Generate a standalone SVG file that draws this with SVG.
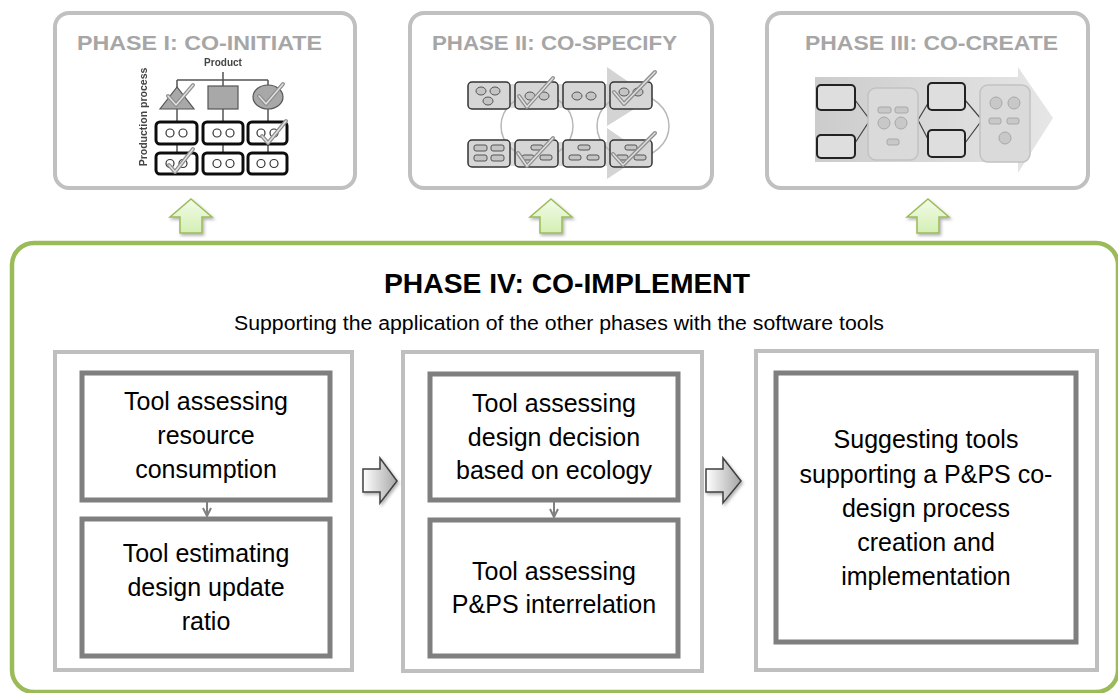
<svg xmlns="http://www.w3.org/2000/svg" width="1118" height="693" viewBox="0 0 1118 693">
  <defs>
    <style>
      .phase { fill: #ffffff; stroke: #c0c0c0; stroke-width: 4; }
      .ptitle { font-family: "Liberation Sans", Arial, sans-serif; font-weight: bold; font-size: 21px; fill: #a6a6a6; }
      .panel { fill: #ffffff; stroke: #bfbfbf; stroke-width: 4; }
      .tool { fill: #ffffff; stroke: #7f7f7f; stroke-width: 5; }
      .body { font-family: "Liberation Sans", Arial, sans-serif; font-size: 25px; fill: #000000; text-anchor: middle; }
      .head { font-family: "Liberation Sans", Arial, sans-serif; font-weight: bold; font-size: 28px; fill: #000000; text-anchor: middle; }
      .sub { font-family: "Liberation Sans", Arial, sans-serif; font-size: 20px; fill: #000000; text-anchor: middle; }
      .uparrow { fill: url(#greenFill); stroke: #9bbb59; stroke-width: 1.5; }
      .rarrow { fill: url(#grayFill); stroke: #404040; stroke-width: 1.5; }
      .link { stroke: #808080; stroke-width: 2; fill: none; }
      .ln { stroke: #555555; stroke-width: 1.5; fill: none; }
      .shape { fill: #a8a8a8; stroke: #555555; stroke-width: 1.2; }
      .proc { fill: #ffffff; stroke: #111111; stroke-width: 3; }
      .gear { fill: none; stroke: #333333; stroke-width: 1.2; }
      .chk { fill: none; stroke: #8f8f8f; stroke-width: 4; stroke-linecap: round; stroke-linejoin: round; }
      .chk2 { fill: none; stroke: #e2e2e2; stroke-width: 1.4; stroke-linecap: round; stroke-linejoin: round; }
      .sbox { fill: #d6d6d6; stroke: #333333; stroke-width: 1.5; }
      .item { fill: #c4c4c4; stroke: #555555; stroke-width: 1; }
      .loop { fill: none; stroke: #b8b8b8; stroke-width: 1.5; }
      .dbox { fill: #dedede; stroke: #222222; stroke-width: 2; }
      .lpanel { fill: #dadada; stroke: #c2c2c2; stroke-width: 1.5; }
      .litem { fill: #c8c8c8; stroke: #a8a8a8; stroke-width: 1; }
    </style>
    <linearGradient id="greenFill" x1="0" y1="0" x2="0" y2="1">
      <stop offset="0" stop-color="#f2fbe8"/>
      <stop offset="1" stop-color="#d4efb4"/>
    </linearGradient>
    <linearGradient id="grayFill" x1="0" y1="0" x2="1" y2="0">
      <stop offset="0" stop-color="#ffffff"/>
      <stop offset="1" stop-color="#a6a6a6"/>
    </linearGradient>
    <linearGradient id="bigArrow" x1="0" y1="0" x2="1" y2="0">
      <stop offset="0" stop-color="#cccccc"/>
      <stop offset="1" stop-color="#e6e6e6"/>
    </linearGradient>
    <filter id="soft" x="-5%" y="-5%" width="110%" height="110%">
      <feGaussianBlur stdDeviation="0.5"/>
    </filter>
    <filter id="shadow" x="-30%" y="-30%" width="160%" height="160%">
      <feDropShadow dx="1.5" dy="2" stdDeviation="1.5" flood-color="#000000" flood-opacity="0.3"/>
    </filter>
    <marker id="tip" viewBox="0 0 10 10" refX="9" refY="5" markerWidth="5" markerHeight="5" orient="auto">
      <path d="M1,1 L9,5 L1,9" fill="none" stroke="#808080" stroke-width="2"/>
    </marker>
  </defs>

  <!-- Phase I -->
  <g id="phase1">
    <rect class="phase" x="55" y="13" width="300" height="175" rx="14"/>
    <text class="ptitle" x="77" y="50" textLength="245" lengthAdjust="spacingAndGlyphs">PHASE I: CO-INITIATE</text>
    <g filter="url(#soft)">
      <text x="223" y="66" font-family="Liberation Sans, Arial, sans-serif" font-weight="bold" font-size="10" fill="#444" text-anchor="middle">Product</text>
      <text transform="translate(147,117) rotate(-90)" font-family="Liberation Sans, Arial, sans-serif" font-weight="bold" font-size="10.5" fill="#444" text-anchor="middle">Production process</text>
      <path class="ln" d="M223,72 V80 M177,80 H268 M177,80 V175 M223,80 V175 M268,80 V175"/>
      <polygon class="shape" points="177,87 160,109 194,109"/>
      <rect class="shape" x="208" y="86" width="30" height="23"/>
      <ellipse class="shape" cx="268" cy="97" rx="15" ry="12"/>
      <g>
        <rect class="proc" x="156" y="122" width="41" height="22" rx="4"/>
        <rect class="proc" x="203" y="122" width="40" height="22" rx="4"/>
        <rect class="proc" x="248" y="122" width="39" height="22" rx="4"/>
        <rect class="proc" x="156" y="153" width="41" height="21" rx="4"/>
        <rect class="proc" x="203" y="153" width="40" height="21" rx="4"/>
        <rect class="proc" x="248" y="153" width="39" height="21" rx="4"/>
      </g>
      <g>
        <circle class="gear" cx="170" cy="133" r="4"/><circle class="gear" cx="183" cy="133" r="4"/>
        <circle class="gear" cx="217" cy="133" r="4"/><circle class="gear" cx="230" cy="133" r="4"/>
        <circle class="gear" cx="261" cy="133" r="4"/><circle class="gear" cx="274" cy="133" r="4"/>
        <circle class="gear" cx="170" cy="163.5" r="4"/><circle class="gear" cx="183" cy="163.5" r="4"/>
        <circle class="gear" cx="217" cy="163.5" r="4"/><circle class="gear" cx="230" cy="163.5" r="4"/>
        <circle class="gear" cx="261" cy="163.5" r="4"/><circle class="gear" cx="274" cy="163.5" r="4"/>
      </g>
      <g>
        <path class="chk" d="M168,96 L176,105 L193,85"/><path class="chk2" d="M168,96 L176,105 L193,85"/>
        <path class="chk" d="M259,96 L266,104 L283,84"/><path class="chk2" d="M259,96 L266,104 L283,84"/>
        <path class="chk" d="M262,136 L268,143 L286,121"/><path class="chk2" d="M262,136 L268,143 L286,121"/>
        <path class="chk" d="M169,165 L175,172 L193,149"/><path class="chk2" d="M169,165 L175,172 L193,149"/>
      </g>
    </g>
  </g>

  <!-- Phase II -->
  <g id="phase2">
    <rect class="phase" x="410" y="13" width="302" height="175" rx="14"/>
    <text class="ptitle" x="432" y="50" textLength="245" lengthAdjust="spacingAndGlyphs">PHASE II: CO-SPECIFY</text>
    <g filter="url(#soft)">
      <rect x="470" y="84" width="140" height="24" fill="#dcdcdc"/>
      <rect x="470" y="142" width="140" height="24" fill="#dcdcdc"/>
      <polygon points="607,67 652,98 607,126" fill="#d4d4d4"/>
      <polygon points="607,128 645,154 607,179" fill="#d4d4d4"/>
      <ellipse class="loop" cx="537" cy="126" rx="36" ry="32"/>
      <ellipse class="loop" cx="633" cy="126" rx="36" ry="32"/>
      <g>
        <rect class="sbox" x="468" y="82" width="42" height="27" rx="4"/>
        <rect class="sbox" x="515" y="82" width="43" height="27" rx="4"/>
        <rect class="sbox" x="563" y="82" width="42" height="27" rx="4"/>
        <rect class="sbox" x="610" y="82" width="42" height="27" rx="4"/>
        <rect class="sbox" x="468" y="140" width="42" height="27" rx="4"/>
        <rect class="sbox" x="515" y="140" width="43" height="27" rx="4"/>
        <rect class="sbox" x="563" y="140" width="42" height="27" rx="4"/>
        <rect class="sbox" x="610" y="140" width="42" height="27" rx="4"/>
      </g>
      <g>
        <ellipse class="item" cx="481" cy="91" rx="5" ry="4"/><ellipse class="item" cx="495" cy="91" rx="5" ry="4"/><ellipse class="item" cx="488" cy="101" rx="5" ry="4"/>
        <ellipse class="item" cx="530" cy="96" rx="5" ry="4"/><ellipse class="item" cx="544" cy="96" rx="5" ry="4"/>
        <ellipse class="item" cx="577" cy="96" rx="5" ry="4"/><ellipse class="item" cx="591" cy="96" rx="5" ry="4"/>
        <ellipse class="item" cx="624" cy="92" rx="5" ry="4"/><ellipse class="item" cx="638" cy="92" rx="5" ry="4"/>
        <rect class="item" x="474" y="145" width="13" height="6" rx="2"/><rect class="item" x="491" y="145" width="13" height="6" rx="2"/>
        <rect class="item" x="474" y="155" width="13" height="6" rx="2"/><rect class="item" x="491" y="155" width="13" height="6" rx="2"/>
        <rect class="item" x="531" y="145" width="12" height="5" rx="2"/><rect class="item" x="522" y="155" width="12" height="5" rx="2"/><rect class="item" x="540" y="155" width="12" height="5" rx="2"/>
        <rect class="item" x="578" y="145" width="12" height="5" rx="2"/><rect class="item" x="569" y="155" width="12" height="5" rx="2"/><rect class="item" x="587" y="155" width="12" height="5" rx="2"/>
        <rect class="item" x="625" y="145" width="12" height="5" rx="2"/><rect class="item" x="616" y="155" width="12" height="5" rx="2"/><rect class="item" x="634" y="155" width="12" height="5" rx="2"/>
      </g>
      <g>
        <path class="chk" d="M519,96 L527,107 L553,78"/><path class="chk2" d="M519,96 L527,107 L553,78"/>
        <path class="chk" d="M614,92 L624,104 L655,72"/><path class="chk2" d="M614,92 L624,104 L655,72"/>
        <path class="chk" d="M518,153 L527,166 L553,138"/><path class="chk2" d="M518,153 L527,166 L553,138"/>
        <path class="chk" d="M613,154 L623,165 L655,133"/><path class="chk2" d="M613,154 L623,165 L655,133"/>
      </g>
    </g>
  </g>

  <!-- Phase III -->
  <g id="phase3">
    <rect class="phase" x="767" y="13" width="321" height="175" rx="14"/>
    <text class="ptitle" x="805" y="50" textLength="253" lengthAdjust="spacingAndGlyphs">PHASE III: CO-CREATE</text>
    <g filter="url(#soft)">
      <polygon points="815,77 1018,77 1018,67 1053,118 1018,173 1018,162 815,162" fill="url(#bigArrow)"/>
      <path d="M855,100 L870,120 L855,143 M930,100 L918,120 L930,143 M965,100 L982,120 L965,143" fill="none" stroke="#444444" stroke-width="1.2"/>
      <rect class="lpanel" x="868" y="88" width="50" height="72" rx="8"/>
      <rect class="lpanel" x="980" y="85" width="50" height="77" rx="8"/>
      <rect class="dbox" x="817" y="85" width="38" height="25" rx="4"/>
      <rect class="dbox" x="817" y="135" width="38" height="23" rx="4"/>
      <rect class="dbox" x="928" y="83" width="37" height="27" rx="4"/>
      <rect class="dbox" x="928" y="130" width="37" height="27" rx="4"/>
      <rect class="litem" x="878" y="107" width="13" height="6" rx="2"/><rect class="litem" x="895" y="107" width="13" height="6" rx="2"/>
      <circle class="litem" cx="884" cy="123" r="6"/><circle class="litem" cx="901" cy="123" r="6"/>
      <rect class="litem" x="887" y="139" width="12" height="6" rx="2"/>
      <circle class="litem" cx="996" cy="103" r="6"/><circle class="litem" cx="1014" cy="103" r="6"/>
      <rect class="litem" x="989" y="118" width="12" height="6" rx="2"/><rect class="litem" x="1007" y="118" width="12" height="6" rx="2"/>
      <circle class="litem" cx="1005" cy="138" r="6"/>
    </g>
  </g>

  <!-- Phase IV container -->
  <g id="phase4">
    <rect x="12" y="243" width="1106" height="449" rx="22" fill="#ffffff" stroke="#9bbb59" stroke-width="4.5"/>
    <text class="head" x="567" y="293" textLength="366" lengthAdjust="spacingAndGlyphs">PHASE IV: CO-IMPLEMENT</text>
    <text class="sub" x="559" y="330" textLength="650" lengthAdjust="spacingAndGlyphs">Supporting  the application of the other phases with the software tools</text>
  </g>

  <g id="panel1">
    <rect class="panel" x="55" y="352" width="297" height="318"/>
  </g>
  <g id="tool-resource">
    <rect class="tool" x="82" y="373" width="248" height="127"/>
    <text class="body" x="206" y="410">Tool assessing</text>
    <text class="body" x="206" y="444">resource</text>
    <text class="body" x="206" y="478">consumption</text>
  </g>
  <g id="tool-update">
    <rect class="tool" x="82" y="519" width="248" height="137"/>
    <text class="body" x="206" y="562">Tool estimating</text>
    <text class="body" x="206" y="596">design update</text>
    <text class="body" x="206" y="630">ratio</text>
  </g>

  <g id="panel2">
    <rect class="panel" x="403" y="352" width="299" height="319"/>
  </g>
  <g id="tool-ecology">
    <rect class="tool" x="430" y="374" width="248" height="126"/>
    <text class="body" x="554" y="412">Tool assessing</text>
    <text class="body" x="554" y="446">design decision</text>
    <text class="body" x="554" y="479">based on ecology</text>
  </g>
  <g id="tool-interrelation">
    <rect class="tool" x="430" y="520" width="248" height="136"/>
    <text class="body" x="554" y="580">Tool assessing</text>
    <text class="body" x="554" y="613">P&amp;PS interrelation</text>
  </g>

  <g id="panel3">
    <rect class="panel" x="756" y="351" width="341" height="319"/>
  </g>
  <g id="tool-suggest">
    <rect class="tool" x="776" y="373" width="300" height="269"/>
    <text class="body" x="926" y="448">Suggesting tools</text>
    <text class="body" x="926" y="483">supporting  a P&amp;PS co-</text>
    <text class="body" x="926" y="517">design process</text>
    <text class="body" x="926" y="551">creation and</text>
    <text class="body" x="926" y="585">implementation</text>
  </g>

  <!-- connectors -->
  <g id="connectors">
    <path class="uparrow" filter="url(#shadow)" d="M191,199 L212,217 L202,217 L202,233 L180,233 L180,217 L170,217 Z"/>
    <path class="uparrow" filter="url(#shadow)" d="M551,199 L572,217 L562,217 L562,233 L540,233 L540,217 L530,217 Z"/>
    <path class="uparrow" filter="url(#shadow)" d="M928,199 L949,217 L939,217 L939,233 L917,233 L917,217 L907,217 Z"/>
    <path class="rarrow" filter="url(#shadow)" d="M363,469 L380,469 L380,458 L397,481 L380,503 L380,492 L363,492 Z"/>
    <path class="rarrow" filter="url(#shadow)" d="M706,469 L723,469 L723,458 L741,481 L723,503 L723,492 L706,492 Z"/>
    <line class="link" x1="207" y1="502" x2="207" y2="516" marker-end="url(#tip)"/>
    <line class="link" x1="554" y1="502" x2="554" y2="517" marker-end="url(#tip)"/>
  </g>
</svg>
